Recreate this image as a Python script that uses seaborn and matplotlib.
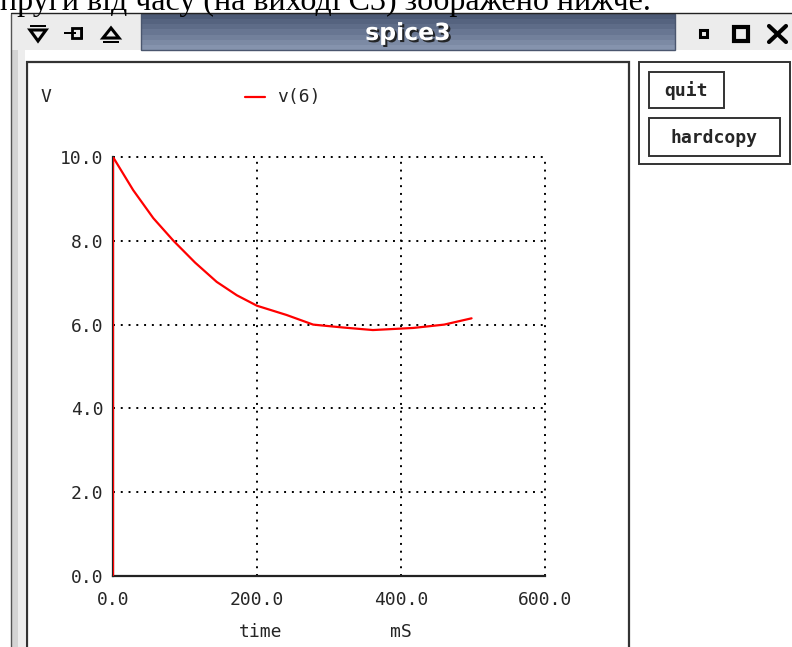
import matplotlib
matplotlib.use("Agg")
import matplotlib.pyplot as plt
import matplotlib.patches as mpatches
import matplotlib.patheffects as pe
import seaborn as sns
import pandas as pd

# v(6) transient (time in mS, volts)
time_ms = [0, 0, 28, 56, 84, 114, 144, 172, 200, 241, 278, 320, 361, 417, 460, 498]
volts = [0, 10.0, 9.21, 8.54, 8.0, 7.48, 7.02, 6.70, 6.45, 6.23, 6.0, 5.93, 5.87, 5.92, 6.0, 6.15]
x_ticks = [0, 200, 400, 600]
y_ticks = [0, 2, 4, 6, 8, 10]
x_tick_labels = ["0.0", "200.0", "400.0", "600.0"]
y_tick_labels = ["0.0", "2.0", "4.0", "6.0", "8.0", "10.0"]
header_text = "пруги від часу (на виході С3) зображено нижче."
window_title = "spice3"
buttons = ["quit", "hardcopy"]

sns.set_style("white")
plt.rcParams["font.family"] = ["DejaVu Sans"]
MONO = "DejaVu Sans Mono"

W, H = 792, 647
fig = plt.figure(figsize=(W / 100, H / 100), dpi=100)
fig.patch.set_facecolor("white")


def px(x, y):
    return x / W, 1 - y / H


def rect(x0, y0, x1, y1, **kw):
    r = mpatches.Rectangle(px(x0, y1), (x1 - x0) / W, (y1 - y0) / H,
                           transform=fig.transFigure, **kw)
    fig.add_artist(r)
    return r


def hline(x0, x1, y, **kw):
    fig.add_artist(plt.Line2D([px(x0, 0)[0], px(x1, 0)[0]], [px(0, y)[1]] * 2,
                              transform=fig.transFigure, **kw))


# document text cut off above the window
fig.text(*px(0, 10), header_text, family="Liberation Serif", fontsize=23,
         va="baseline", ha="left", color="black")

# window frame + title bar
rect(11, 13, 792, 50, facecolor="#ececec", edgecolor="none")
rect(11, 50, 25, 647, facecolor="#d4d4d4", edgecolor="none")
rect(18, 50, 25, 647, facecolor="#ededed", edgecolor="none")
fig.add_artist(plt.Line2D([px(11, 0)[0]] * 2, [px(0, 14)[1], 0],
                          transform=fig.transFigure, color="#555555", lw=1))
hline(11, 792, 13, color="#222222", lw=1)
bar_cols = ["#4c5a76", "#55637f", "#5e6c88", "#687692", "#72809b", "#7c8aa4", "#8593ad"]
step = 36 / len(bar_cols)
for i, c in enumerate(bar_cols):
    rect(141, 14 + i * step, 675, 14 + (i + 1) * step + 0.5, facecolor=c, edgecolor="none")
rect(141, 14, 675, 50, facecolor="none", edgecolor="#4a566e", lw=1)
fig.text(*px(408, 33), window_title, color="white", fontsize=17,
         fontweight="bold", ha="center", va="center",
         path_effects=[pe.SimplePatchShadow(offset=(1.5, -1.5), shadow_rgbFace="#1a1a1a",
                                            alpha=0.9), pe.Normal()])

# title bar icons
fig.add_artist(mpatches.Polygon([px(30, 30), px(46, 30), px(38, 41)], closed=True,
                                fill=False, lw=2.2, edgecolor="black",
                                transform=fig.transFigure))
rect(30, 25, 46, 27, facecolor="black", edgecolor="none")
rect(64, 32, 76, 34, facecolor="black", edgecolor="none")
rect(72, 28, 81, 38, facecolor="none", edgecolor="black", lw=2)
rect(81, 27, 83, 39, facecolor="black", edgecolor="none")
fig.add_artist(mpatches.Polygon([px(103, 38), px(119, 38), px(111, 28)], closed=True,
                                fill=False, lw=2.2, edgecolor="black",
                                transform=fig.transFigure))
rect(103, 41, 119, 43, facecolor="black", edgecolor="none")
rect(700, 30, 707, 37, facecolor="none", edgecolor="black", lw=2.2)
rect(734, 27, 748, 41, facecolor="none", edgecolor="black", lw=3)
fig.add_artist(plt.Line2D([px(769, 0)[0], px(786, 0)[0]], [px(0, 26)[1], px(0, 42)[1]],
                          transform=fig.transFigure, color="black", lw=3))
fig.add_artist(plt.Line2D([px(769, 0)[0], px(786, 0)[0]], [px(0, 42)[1], px(0, 26)[1]],
                          transform=fig.transFigure, color="black", lw=3))

# plot frame and button panel
rect(27, 62, 629, 700, facecolor="white", edgecolor="#333333", lw=1.6)
rect(639, 62, 790, 164, facecolor="white", edgecolor="#333333", lw=1.4)
rect(649, 72, 724, 108, facecolor="white", edgecolor="#333333", lw=1.4)
rect(649, 118, 780, 156, facecolor="white", edgecolor="#333333", lw=1.4)
fig.text(*px(686, 91), buttons[0], family=MONO, fontweight="bold", fontsize=13,
         ha="center", va="center")
fig.text(*px(714, 138), buttons[1], family=MONO, fontweight="bold", fontsize=13,
         ha="center", va="center")

# the plot itself
l, r_, t, b = 113, 545, 157, 576
ax = fig.add_axes([l / W, 1 - b / H, (r_ - l) / W, (b - t) / H])
ax.set_zorder(5)
ax.set_facecolor("none")
df = pd.DataFrame({"time": time_ms, "v(6)": volts})
sns.lineplot(data=df, x="time", y="v(6)", sort=False, estimator=None,
             color="red", lw=1.6, ax=ax, zorder=3)
ax.set_xlim(0, 600)
ax.set_ylim(0, 10)
ax.set_xticks(x_ticks)
ax.set_yticks(y_ticks)
ax.set_xticklabels(x_tick_labels, family=MONO, fontsize=13)
ax.set_yticklabels(y_tick_labels, family=MONO, fontsize=13)
ax.tick_params(length=0)
ax.tick_params(axis="y", pad=7)
ax.tick_params(axis="x", pad=11)
ax.grid(True, color="black", lw=1.4, ls=(0, (1, 3)))
for gl in ax.get_xgridlines() + ax.get_ygridlines():
    gl.set_clip_on(False)
for s in ["top", "right"]:
    ax.spines[s].set_visible(False)
for s in ["left", "bottom"]:
    ax.spines[s].set_color("#222222")
    ax.spines[s].set_linewidth(1.6)
    ax.spines[s].set_zorder(2.5)
ax.set_xlabel("")
ax.set_ylabel("")

fig.text(*px(261, 632), "time", family=MONO, fontsize=13, ha="center", va="center")
fig.text(*px(401, 632), "mS", family=MONO, fontsize=13, ha="center", va="center")
fig.text(*px(46, 97), "V", family=MONO, fontsize=13, ha="center", va="center")
hline(245, 265, 97, color="red", lw=1.6)
fig.text(*px(277, 97), "v(6)", family=MONO, fontsize=13, ha="left", va="center")

fig.savefig("out.png", dpi=100)
